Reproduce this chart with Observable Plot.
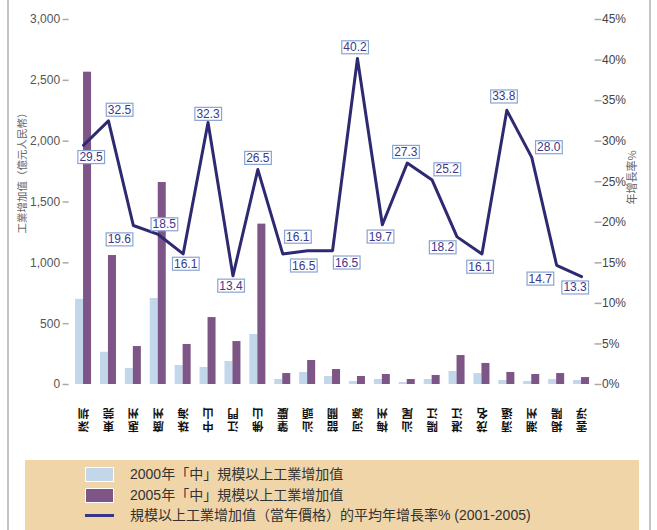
<!DOCTYPE html>
<html><head><meta charset="utf-8">
<script src="https://cdn.jsdelivr.net/npm/d3@7"></script>
<script src="https://cdn.jsdelivr.net/npm/@observablehq/plot@0.6"></script>
<style>
body{margin:0;background:#fff;}
#wrap{position:relative;width:657px;height:530px;overflow:hidden;font-family:"Liberation Sans","Noto Sans CJK TC",sans-serif;}
.vline{position:absolute;top:0;width:2px;height:530px;background:#c4c4c4;}
#legend{position:absolute;left:25px;top:460px;width:614px;height:70px;background:#F0D5A9;}
.sw{position:absolute;left:60px;width:27px;height:13px;border:1px solid #fff;}
.lt{position:absolute;left:105px;font-size:14px;color:#333;white-space:nowrap;line-height:16px;font-family:"Liberation Sans","Noto Sans CJK TC",sans-serif;}
#chart{position:absolute;left:0;top:0;}
</style></head>
<body>
<div id="wrap">
  <div id="chart"></div>
  <div class="vline" style="left:7px"></div>
  <div class="vline" style="left:649px"></div>
  <div id="legend">
    <div class="sw" style="top:7px;background:#C3D7EB"></div>
    <div class="lt" style="top:6px">2000年「中」規模以上工業增加值</div>
    <div class="sw" style="top:28px;background:#7D5587"></div>
    <div class="lt" style="top:27px">2005年「中」規模以上工業增加值</div>
    <div style="position:absolute;left:60px;top:54px;width:29px;height:3px;background:#3A3488"></div>
    <div class="lt" style="top:47px">規模以上工業增加值（當年價格）的平均年增長率% (2001-2005)</div>
  </div>
</div>
<script>
const categories = ["深圳","東莞","惠州","廣州","珠海","中山","江門","佛山","肇慶","汕頭","韶關","河源","梅州","汕尾","陽江","湛江","茂名","清遠","潮州","揭陽","雲浮"];
const value2000 = [700,265,131,707,156,140,189,411,41,99,66,25,41,16,41,107,90,33,25,41,33];
const value2005 = [2567,1060,312,1660,329,550,353,1318,90,197,123,66,82,41,74,238,173,99,82,90,57];
const growthRate = [29.5,32.5,19.6,18.5,16.1,32.3,13.4,26.5,16.1,16.5,16.5,40.2,19.7,27.3,25.2,18.2,16.1,33.8,28.0,14.7,13.3];
const leftTicks = [0,500,1000,1500,2000,2500,3000];
const rightTicks = [0,5,10,15,20,25,30,35,40,45];

// layout: label nudges (pixels) for each rate label
const labelNudge = [[7.5,12],[11,-11],[-14,14],[6,-10],[2.5,10],[0,-8.5],[-2,10],[0,-11.5],[15,-17],[-4,15],[14,12],[-2.5,-11],[-2,12],[-1.4,-11],[15,-10.6],[-14.5,10.6],[-2,13],[-3,-13.7],[17,-10],[-16.4,13.5],[-6.5,11]];

const K = 3000/45;
const rows = categories.map((c,i)=>({cat:c, v2000:value2000[i], v2005:value2005[i], rate:growthRate[i]}));
const font = '"Liberation Sans","Noto Sans CJK TC",sans-serif';
const cjk = '"Noto Sans CJK TC",sans-serif';

const rateLabels = rows.map((d,i)=>Plot.text([d], {
  x:"cat", y:r=>r.rate*K, text:r=>r.rate.toFixed(1),
  dx:labelNudge[i][0], dy:labelNudge[i][1],
  fill:"#3D3889", fontSize:12, fontFamily:font, className:"ratebox"
}));

const catText = {frameAnchor:"bottom", rotate:180, fontSize:11.5, fontWeight:"bold", fill:"#111", fontFamily:cjk, textAnchor:"middle"};

const chart = Plot.plot({
  width:657, height:460,
  marginLeft:70.6, marginRight:63.5, marginTop:19, marginBottom:76,
  style:{fontFamily:font, fontSize:"12px", background:"transparent", overflow:"visible"},
  x:{type:"band", domain:categories, paddingInner:0.357, paddingOuter:0.1785, round:false, axis:null},
  y:{domain:[0,3000], axis:null},
  marks:[
    Plot.axisY(leftTicks, {anchor:"left", label:null, tickSize:6, tickPadding:3, dx:-2, stroke:"#aaa", strokeWidth:1.5, fill:"#555", fontSize:12, tickFormat:d3.format(",")}),
    Plot.axisY(rightTicks.map(p=>p*K), {anchor:"right", label:null, tickSize:7, tickPadding:1, stroke:"#aaa", strokeWidth:1.5, fill:"#444", fontSize:12, tickFormat:d=>Math.round(d/K)+"%"}),
    Plot.text(["工業增加值（億元人民幣）"], {frameAnchor:"left", textAnchor:"middle", dx:-48.6, dy:-31.5, rotate:-90, fill:"#666", fontSize:10.5, fontFamily:cjk}),
    Plot.text(["年增長率%"], {frameAnchor:"right", textAnchor:"middle", dx:38.5, dy:-24.5, rotate:-90, fill:"#666", fontSize:11, fontFamily:cjk}),
    Plot.barY(rows, {x:"cat", y:"v2000", fill:"#C3D7EB", insetRight:8}),
    Plot.barY(rows, {x:"cat", y:"v2005", fill:"#7D5587", insetLeft:8}),
    Plot.line(rows, {x:"cat", y:d=>d.rate*K, stroke:"#2E2A72", strokeWidth:3}),
    ...rateLabels,
    Plot.text(categories, {...catText, x:d=>d, text:d=>d.charAt(0), dy:37.5}),
    Plot.text(categories, {...catText, x:d=>d, text:d=>d.charAt(1), dy:24.5})
  ]
});
document.getElementById("chart").appendChild(chart);

d3.select(chart).selectAll("g.ratebox text").each(function(){
  const b = this.getBBox();
  const r = document.createElementNS("http://www.w3.org/2000/svg","rect");
  r.setAttribute("x", b.x-1.5); r.setAttribute("y", b.y+0.5);
  r.setAttribute("width", b.width+3); r.setAttribute("height", b.height-1);
  r.setAttribute("fill","#fff"); r.setAttribute("stroke","#8AA4D0"); r.setAttribute("stroke-width","1.2");
  const t = this.getAttribute("transform"); if (t) r.setAttribute("transform", t);
  this.parentNode.insertBefore(r, this);
});
</script>
</body></html>
